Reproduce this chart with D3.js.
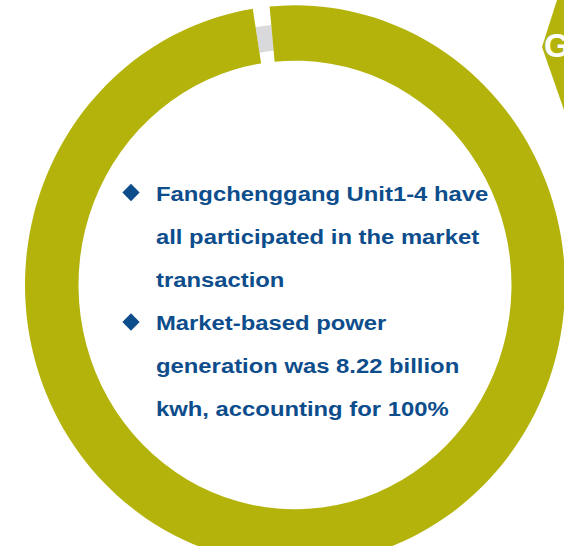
<!DOCTYPE html>
<html>
<head>
<meta charset="utf-8">
<script src="https://cdn.jsdelivr.net/npm/d3@7"></script>
<style>
  body { margin: 0; background: #fff; }
  svg { display: block; }
</style>
</head>
<body>
<svg id="chart" width="564" height="546"></svg>
<script>
// Ring data: market-based share vs. remainder
const segments = ["Market-based", "Other"];
const shares = [99, 1];
const segmentColors = ["#b3b30c", "#d9d9dc"];

// Bullet text, one array of lines per bullet
const bullets = [
    ["Fangchenggang Unit1-4 have", "all participated in the market", "transaction"],
    ["Market-based power", "generation was 8.22 billion", "kwh, accounting for 100%"]
];

const svg = d3.select("#chart");

// Ring is slightly taller than wide in the reference
const ring = svg.append("g")
    .attr("transform", "translate(295,285) scale(1,1.036)");

const startAngle = -5.4 * Math.PI / 180;
const pie = d3.pie()
    .sort(null)
    .startAngle(startAngle)
    .endAngle(startAngle + 2 * Math.PI);

const arcs = pie(shares);

const mainArc = d3.arc().innerRadius(216.5).outerRadius(270);
const restArc = d3.arc().innerRadius(227).outerRadius(252);

// draw remainder first so the big slice sits on top
ring.selectAll("path")
    .data(arcs.slice().reverse())
    .enter()
    .append("path")
    .attr("d", d => d.index === 0 ? mainArc(d) : restArc(d))
    .attr("fill", d => segmentColors[d.index]);

// Logo fragment in the top right corner (cut by the page edge)
const logo = svg.append("g");
logo.append("path")
    .attr("d", "M557,0 L600,0 L600,120 L564,110 L542,47 Z")
    .attr("fill", "#b3b30c");
logo.append("text")
    .attr("x", 544)
    .attr("y", 57)
    .attr("font-family", "Liberation Sans, Arial, sans-serif")
    .attr("font-weight", "bold")
    .attr("font-size", 33)
    .attr("fill", "#fff")
    .text("G");

// Bullet list (the reference text is a bit stretched horizontally)
const text = svg.append("g")
    .attr("font-family", "Liberation Sans, Arial, sans-serif")
    .attr("font-weight", "bold")
    .attr("font-size", 21)
    .attr("fill", "#0d4d8c");

const lineStep = 43;
const bulletTops = [200.5, 330];

bullets.forEach((lines, i) => {
    const y0 = bulletTops[i];
    text.append("path")
        .attr("d", d3.symbol(d3.symbolDiamond2, 190)())
        .attr("transform", `translate(131,${y0 - 8})`)
        .attr("fill", "#0d4d8c");
    lines.forEach((line, j) => {
        text.append("text")
            .attr("transform", `translate(156,${y0 + j * lineStep}) scale(1.135,1)`)
            .text(line);
    });
});
</script>
</body>
</html>
